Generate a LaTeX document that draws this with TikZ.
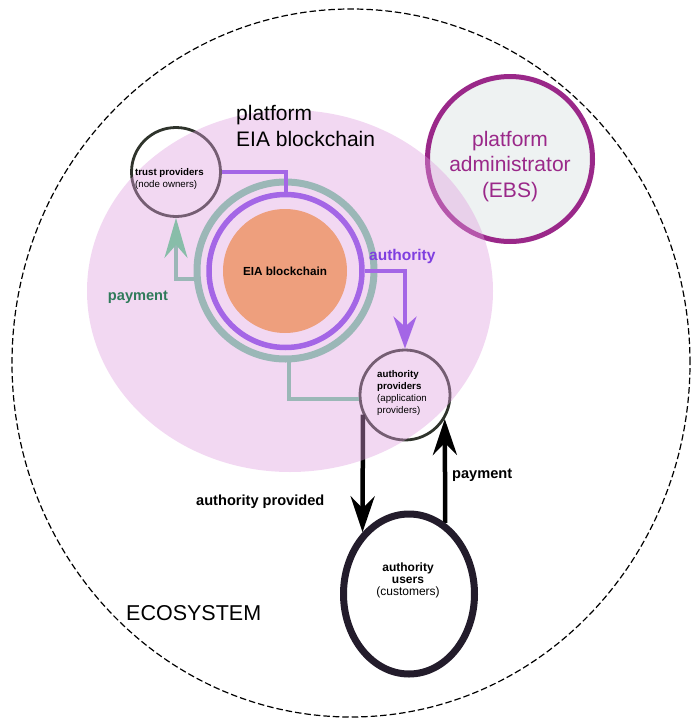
\documentclass[tikz,border=0pt]{standalone}
\usepackage{fontspec}
\setmainfont{Liberation Sans}
\usetikzlibrary{arrows.meta,shapes.geometric}

\pgfdeclarelayer{back}
\pgfdeclarelayer{tint}
\pgfsetlayers{back,tint,main}

\definecolor{adminpurple}{HTML}{9A2889}
\definecolor{adminfill}{HTML}{EEF2F2}
\definecolor{platpink}{HTML}{DF9EDF}
\definecolor{ringgrey}{HTML}{9BB7B7}
\definecolor{ringpurple}{HTML}{A466E6}
\definecolor{chainorange}{HTML}{EE9F7D}
\definecolor{provline}{HTML}{2F342C}
\definecolor{userline}{HTML}{231C2B}
\definecolor{paygreen}{HTML}{2F7A5A}
\definecolor{tipgreen}{HTML}{88BDA9}
\definecolor{authviolet}{HTML}{7F3FE0}

\tikzset{
  bigtext/.style={font=\fontsize{21}{25.5}\selectfont, inner sep=0pt},
  smalltext/.style={font=\fontsize{9.7}{11.7}\selectfont, align=left, inner sep=0pt},
  flowlabel/.style={font=\fontsize{14.6}{17}\selectfont\bfseries, inner sep=0pt},
  provider/.style={circle, draw=provline, line width=2.8pt, inner sep=0pt},
  bigtip/.style={-{Stealth[length=36pt,width=24pt,inset=12pt]}},
}

\begin{document}
\begin{tikzpicture}[x=1pt,y=-1pt]
\useasboundingbox (0,0) rectangle (691,718);

% ecosystem and platform administrator
\begin{pgfonlayer}{back}
  \draw[line width=1.2pt, dash pattern=on 6.5pt off 3pt] (351,363) ellipse [x radius=339pt, y radius=354pt];
  \node[circle, draw=adminpurple, fill=adminfill, line width=5pt, minimum size=165pt] (admin) at (510,159) {};
  \node[provider, minimum size=89pt] (tp) at (176,172) {};
  \node[provider, minimum size=90pt] (ap) at (405,395) {};
\end{pgfonlayer}

\node[ellipse, draw=userline, line width=7pt, minimum width=131pt, minimum height=160pt] (au) at (409,594) {};

\begin{pgfonlayer}{back}
  \draw[line width=4.5pt, bigtip] (ap.205) -- (au.127);
  \draw[line width=4.5pt, bigtip] (au.63) -- (ap.-31);
\end{pgfonlayer}

% the platform
\begin{pgfonlayer}{tint}
  \fill[platpink, fill opacity=0.4] (290,291) ellipse [x radius=203pt, y radius=181pt];
\end{pgfonlayer}

\node[circle, draw=ringgrey, line width=7pt, minimum size=177pt, inner sep=0pt] (greyring) at (285.5,270.5) {};
\node[circle, draw=ringpurple, line width=5.5pt, minimum size=153pt, inner sep=0pt] (purplering) at (285.5,271) {};
\node[circle, fill=chainorange, minimum size=124pt, font=\fontsize{11.7}{14}\selectfont\bfseries] (chain) at (285,271) {EIA blockchain};

\draw[ringpurple, line width=4pt] (tp.east) -| (purplering.north);
\draw[ringpurple, line width=4pt, -{Stealth[length=32pt,width=23pt,inset=10pt]}] (purplering.east) -| (ap.north);
\draw[ringgrey, line width=4pt, -{Stealth[length=40pt,width=23pt,inset=13pt,color=tipgreen]}] (greyring.185) -| (tp.south);
\draw[ringgrey, line width=4pt] (greyring.-88) |- (ap.185);

% texts (base = last line)
\node[bigtext, anchor=base west, align=left] (plattitle) at (236,146) {platform\\EIA blockchain};
\node[bigtext, anchor=base, align=center, text=adminpurple] (admintext) at (510,197) {platform\\administrator\\(EBS)};
\node[smalltext, anchor=base west] (tptext) at (135,187) {\textbf{trust providers}\\(node owners)};
\node[smalltext, anchor=base west] (aptext) at (377,413) {\textbf{authority}\\\textbf{providers}\\(application\\providers)};
\node[font=\fontsize{12}{12}\selectfont, align=center, inner sep=0pt, anchor=base] (autext) at (408,595) {\textbf{authority}\\\textbf{users}\\(customers)};

\node[flowlabel, text=paygreen, anchor=base] (paygreen) at (138,300) {payment};
\node[flowlabel, text=authviolet, anchor=base west, font=\fontsize{15.5}{17}\selectfont\bfseries] (authlabel) at (369,260) {authority};
\node[flowlabel, anchor=base west] (paylabel) at (452,478) {payment};
\node[flowlabel, anchor=base west] (provlabel) at (196,505) {authority provided};
\node[bigtext, anchor=base west, font=\fontsize{21.5}{25}\selectfont] (eco) at (126,620) {ECOSYSTEM};

\end{tikzpicture}
\end{document}
